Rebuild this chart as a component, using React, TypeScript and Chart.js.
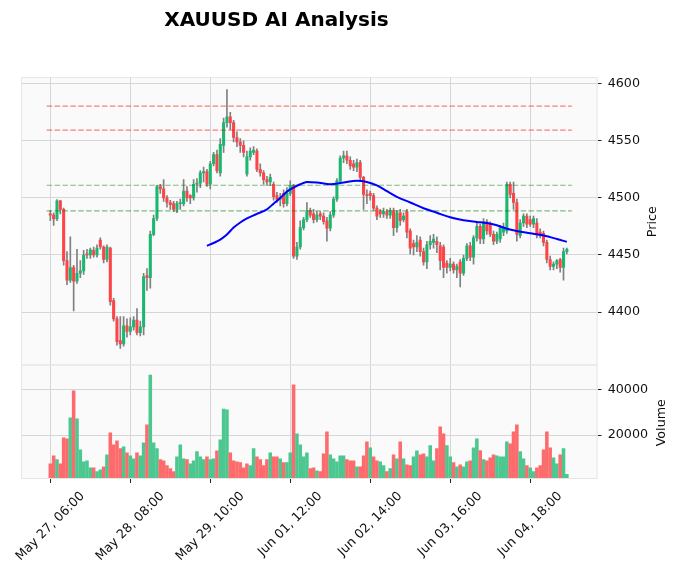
import React, { useEffect, useRef } from "react";
import { Chart, registerables } from "chart.js";

Chart.register(...registerables);

const chartTitle = "XAUUSD AI Analysis";
const tickIndex = [0, 24, 48, 72, 96, 120, 144];
const tickLabels = [
  "May 27, 06:00",
  "May 28, 08:00",
  "May 29, 10:00",
  "Jun 01, 12:00",
  "Jun 02, 14:00",
  "Jun 03, 16:00",
  "Jun 04, 18:00",
];
const priceTicks = [4400, 4450, 4500, 4550, 4600];
const volumeTicks = [20000, 40000];

const opens = [
  4486, 4485, 4481.5, 4497.5, 4490, 4445, 4428, 4439, 4427, 4434,
  4436, 4451, 4450, 4454, 4450, 4463, 4457, 4446, 4456, 4410,
  4394, 4375, 4372, 4388, 4383, 4387, 4393, 4382, 4387, 4432,
  4430, 4468, 4482, 4510, 4508, 4500, 4496, 4495, 4490, 4495,
  4495, 4506, 4502, 4500, 4512, 4513, 4522, 4523, 4512, 4530,
  4538, 4522, 4546, 4566, 4571, 4566, 4553, 4549, 4546, 4521,
  4536, 4540, 4541, 4525, 4522, 4516, 4514, 4512, 4502, 4499,
  4504, 4495, 4504, 4511, 4449, 4457, 4474, 4481, 4489, 4486,
  4481, 4486, 4484, 4480, 4473.5, 4485, 4499, 4515, 4535, 4537,
  4533, 4530, 4527, 4531, 4518, 4503, 4504, 4502, 4491, 4488,
  4486, 4488, 4485, 4489, 4474, 4487, 4481, 4488, 4471, 4460,
  4457, 4463, 4453, 4444, 4459, 4461, 4462, 4458, 4457, 4443,
  4439, 4442, 4437, 4444, 4434, 4447, 4458, 4448, 4465, 4475,
  4464, 4479, 4477, 4468, 4462, 4464, 4470, 4471, 4512, 4504,
  4496, 4467, 4478, 4484, 4481, 4477, 4478, 4470, 4469, 4461,
  4446, 4440, 4442, 4446, 4439, 4453,
];
const highs = [
  4489, 4487, 4498.5, 4498, 4491, 4453, 4466, 4441, 4455, 4445,
  4454, 4455, 4456, 4457, 4459, 4465, 4458, 4459, 4457, 4412,
  4396, 4396, 4396, 4394, 4395, 4396, 4403, 4392, 4434, 4438,
  4471, 4485, 4511, 4512, 4516, 4502, 4498, 4497, 4497, 4499,
  4516, 4510, 4503, 4516, 4517, 4524, 4527, 4525, 4532, 4540,
  4542, 4552, 4570, 4595, 4575, 4568, 4558, 4552, 4550, 4541,
  4544, 4545, 4543, 4530, 4524, 4519, 4521, 4514, 4505, 4504,
  4507, 4509, 4515, 4512, 4461, 4480, 4483, 4496, 4491, 4490,
  4488, 4488, 4487, 4483, 4488, 4501, 4517, 4537, 4541, 4541,
  4536, 4533, 4534, 4533, 4519, 4507, 4506, 4504, 4493, 4490,
  4491, 4490, 4491, 4491, 4489, 4490, 4487, 4490, 4473, 4463,
  4467, 4466, 4456, 4462, 4467, 4468, 4466, 4461, 4459, 4445,
  4447, 4444, 4442, 4446, 4450, 4460, 4461, 4467, 4478, 4477,
  4482, 4481, 4479, 4471, 4470, 4476, 4478, 4514, 4514, 4514,
  4499, 4481, 4486, 4486, 4484, 4484, 4482, 4473, 4471, 4463,
  4449, 4444, 4446, 4447, 4456, 4456,
];
const lows = [
  4480, 4476, 4480, 4486, 4441, 4424, 4426, 4401, 4425, 4430,
  4433, 4447, 4447, 4448, 4448, 4455, 4443, 4444, 4406, 4392,
  4371, 4368, 4370, 4378, 4380, 4384, 4380, 4379, 4380, 4419,
  4421, 4467, 4480, 4504, 4497, 4492, 4490, 4488, 4487, 4490,
  4493, 4497, 4495, 4498, 4505, 4509, 4514, 4510, 4508, 4528,
  4522, 4519, 4540, 4562, 4560, 4549, 4545, 4540, 4536, 4519,
  4533, 4538, 4523, 4519, 4512, 4511, 4511, 4498, 4496, 4493,
  4492, 4493, 4502, 4447, 4446, 4455, 4472, 4479, 4483, 4478,
  4479, 4481, 4477, 4462, 4471, 4483, 4497, 4513, 4531, 4530,
  4525, 4524, 4523, 4515, 4490, 4495, 4498, 4489, 4481, 4483,
  4483, 4482, 4482, 4467, 4470, 4476, 4479, 4465, 4451, 4450,
  4453, 4449, 4441, 4438, 4455, 4456, 4452, 4437, 4430, 4434,
  4436, 4434, 4430, 4422, 4432, 4445, 4445, 4442, 4462, 4460,
  4460, 4468, 4466, 4459, 4460, 4461, 4467, 4469, 4500, 4490,
  4462, 4465, 4475, 4474, 4475, 4474, 4465, 4465, 4458, 4443,
  4437, 4437, 4438, 4435, 4428, 4451,
];
const closes = [
  4485, 4481.5, 4497.5, 4490, 4445, 4428, 4439, 4427, 4434, 4436,
  4450, 4450, 4454.5, 4450, 4456, 4457, 4446, 4457, 4409, 4394,
  4374, 4372, 4388, 4383, 4387, 4393, 4382, 4387, 4431, 4430,
  4468, 4482, 4510, 4508, 4500, 4496, 4494, 4490, 4495, 4496,
  4506, 4500, 4500, 4512, 4513, 4522, 4523, 4512, 4530, 4538,
  4524, 4547, 4566, 4571, 4566, 4553, 4549, 4546, 4540, 4536,
  4541, 4542, 4525, 4522, 4516, 4514, 4518, 4501, 4499, 4500,
  4495, 4504, 4511, 4449, 4457, 4474, 4481, 4489, 4485, 4481,
  4485, 4484, 4479.5, 4473.5, 4485, 4499, 4515, 4535, 4537, 4533,
  4528, 4527, 4531, 4518, 4503, 4502, 4502, 4491, 4484, 4486,
  4488, 4485, 4489, 4474, 4487, 4480, 4484, 4470, 4456, 4457,
  4461, 4453, 4444, 4459, 4462, 4464, 4459, 4445, 4439, 4439,
  4442, 4437, 4440, 4434, 4447, 4458, 4448, 4465, 4475, 4464,
  4479, 4471, 4468, 4462, 4468, 4474, 4474, 4512, 4503, 4496,
  4468, 4478, 4484, 4477, 4477, 4482, 4468, 4467, 4461, 4446,
  4440, 4442, 4445, 4439, 4453, 4455,
];
const volumes = [
  7500, 11000, 9300, 7500, 18800, 18400, 27500, 39300, 27100, 13600,
  8400, 8800, 5800, 5800, 4100, 4900, 6200, 11400, 21000, 15800,
  17500, 14100, 14900, 12300, 11000, 9700, 12300, 11000, 16700, 24500,
  46200, 16700, 14100, 9300, 8800, 6700, 5400, 4100, 10600, 15800,
  9700, 9300, 7500, 8800, 12800, 10600, 9300, 10600, 9300, 9700,
  13200, 18000, 31400, 31000, 12300, 8800, 8400, 8000, 5800, 7500,
  6700, 14100, 10600, 9300, 6700, 9300, 12300, 10600, 10600, 9700,
  8000, 8000, 12300, 41900, 20600, 15800, 10600, 12300, 5400, 5800,
  4500, 4100, 11900, 21400, 11400, 9700, 8400, 11000, 11000, 9300,
  8800, 8800, 6200, 6200, 11000, 17100, 14500, 10600, 8800, 8400,
  6700, 4100, 5400, 11400, 9700, 17100, 9700, 7100, 6700, 10600,
  13200, 11400, 11900, 10600, 15400, 8800, 14100, 23600, 20600, 15400,
  10600, 8000, 6200, 7100, 6200, 8400, 8800, 14500, 18400, 13300,
  9300, 8800, 10100, 11400, 11000, 10600, 10600, 17100, 16200, 21400,
  24500, 12800, 9700, 6700, 5800, 4100, 5800, 6700, 13600, 21400,
  14500, 10100, 7500, 11400, 14100, 2950,
];

const maIndex = [
  47, 49, 51, 53, 55, 57, 59, 62, 65, 67, 69, 71, 73, 75, 77, 80, 84, 88, 92,
  95, 98, 101, 104, 108, 112, 116, 120, 124, 128, 131, 134, 137, 140, 144, 148,
  152, 155,
];
const maValues = [
  4458, 4460.5, 4463.5, 4468, 4474, 4478.5, 4482, 4486, 4490, 4495, 4500,
  4505.5, 4509, 4512, 4514, 4513.5, 4512, 4513.5, 4515, 4514, 4511, 4506, 4501,
  4496, 4491, 4487, 4483, 4480.5, 4479, 4478, 4476, 4473, 4471, 4469, 4467,
  4464, 4461.5,
];

const resistanceLevels = [4580.4, 4559.4];
const supportLevels = [4511.1, 4488.6];
const levelSpan = [-1.1, 156.5];

const FONT = "DejaVu Sans";
const UP = "#19b76f";
const DOWN = "#fe4446";
const VOL_UP = "#4dc790";
const VOL_DOWN = "#fd6b6c";
const GRID = "#d6d6d6";

export default function App() {
  const ref = useRef<HTMLCanvasElement>(null);

  useEffect(() => {
    const canvas = ref.current;
    if (!canvas) return;
    const idx = closes.map((_, i) => i);
    const isUp = (i: number) => closes[i] >= opens[i];
    const volUp = (i: number) => (i === 0 ? closes[0] >= opens[0] : closes[i] >= closes[i - 1]);

    const levelSet = (lv: number, color: string, k: number) => ({
      type: "line" as const,
      label: "level" + k,
      data: levelSpan.map((x) => ({ x, y: lv })),
      borderColor: color,
      borderWidth: 1.2,
      borderDash: [5.5, 2.4],
      pointRadius: 0,
      yAxisID: "y",
      order: 1,
    });

    const decor = {
      id: "decor",
      beforeDraw(chart: any) {
        const { ctx, chartArea } = chart;
        ctx.save();
        ctx.fillStyle = "#ffffff";
        ctx.fillRect(0, 0, chart.width, chart.height);
        ctx.fillStyle = "#fafafa";
        ctx.fillRect(chartArea.left, chartArea.top, chartArea.right - chartArea.left, chartArea.bottom - chartArea.top);
        ctx.restore();
      },
      afterDraw(chart: any) {
        const { ctx, chartArea } = chart;
        const ys = chart.scales.y;
        const yv = chart.scales.yv;
        const xs = chart.scales.x;
        ctx.save();
        // panel frames
        ctx.strokeStyle = "#e6e6e6";
        ctx.lineWidth = 1;
        ctx.strokeRect(chartArea.left + 0.5, ys.top + 0.5, chartArea.right - chartArea.left - 1, ys.bottom - ys.top);
        ctx.strokeRect(chartArea.left + 0.5, yv.top + 0.5, chartArea.right - chartArea.left - 1, yv.bottom - yv.top - 1);
        // title
        ctx.fillStyle = "#000000";
        ctx.font = `bold 20px "${FONT}"`;
        ctx.textAlign = "center";
        ctx.textBaseline = "alphabetic";
        ctx.fillText(chartTitle, 276.5, 26);
        // x tick labels, rotated 45deg, bbox centred on tick
        ctx.font = `12.7px "${FONT}"`;
        ctx.fillStyle = "#101010";
        const h = 12.7 * 1.16;
        tickIndex.forEach((v, k) => {
          const px = xs.getPixelForValue(v);
          const w = ctx.measureText(tickLabels[k]).width;
          const bb = (w + h) * Math.SQRT1_2;
          ctx.save();
          ctx.translate(px, chartArea.bottom + 10 + bb / 2);
          ctx.rotate(-Math.PI / 4);
          ctx.textAlign = "center";
          ctx.textBaseline = "middle";
          ctx.fillText(tickLabels[k], 0, 0);
          ctx.restore();
        });
        // y axis titles
        const drawV = (text: string, x: number, y: number) => {
          ctx.save();
          ctx.translate(x, y);
          ctx.rotate(-Math.PI / 2);
          ctx.textAlign = "center";
          ctx.textBaseline = "middle";
          ctx.fillText(text, 0, 0);
          ctx.restore();
        };
        drawV("Price", 653, (ys.top + ys.bottom) / 2 + 1);
        drawV("Volume", 662, (yv.top + yv.bottom) / 2 + 1);
        ctx.restore();
      },
    };

    const tickFont = { family: FONT, size: 12.7 };

    const chart = new Chart(canvas, {
      type: "bar",
      data: {
        datasets: [
          {
            type: "line",
            label: "MA",
            data: maIndex.map((x, k) => ({ x, y: maValues[k] })),
            borderColor: "#0000ff",
            borderWidth: 2,
            pointRadius: 0,
            cubicInterpolationMode: "monotone",
            yAxisID: "y",
            order: 0,
          } as any,
          levelSet(resistanceLevels[0], "rgba(255,0,0,0.5)", 0),
          levelSet(resistanceLevels[1], "rgba(255,0,0,0.5)", 1),
          levelSet(supportLevels[0], "rgba(0,128,0,0.5)", 2),
          levelSet(supportLevels[1], "rgba(0,128,0,0.5)", 3),
          {
            type: "bar",
            label: "body",
            data: idx.map((i) => ({ x: i, y: [opens[i], closes[i]] })),
            backgroundColor: idx.map((i) => (isUp(i) ? UP : DOWN)),
            barThickness: 2.4,
            minBarLength: 1,
            grouped: false,
            yAxisID: "y",
            order: 2,
          } as any,
          {
            type: "bar",
            label: "wick",
            data: idx.map((i) => ({ x: i, y: [lows[i], highs[i]] })),
            backgroundColor: "#808080",
            barThickness: 1,
            grouped: false,
            yAxisID: "y",
            order: 3,
          } as any,
          {
            type: "bar",
            label: "volume",
            data: idx.map((i) => ({ x: i, y: volumes[i] })),
            backgroundColor: idx.map((i) => (volUp(i) ? VOL_UP : VOL_DOWN)),
            barThickness: 2.9,
            grouped: false,
            yAxisID: "yv",
            order: 4,
          } as any,
        ],
      },
      options: {
        animation: false,
        responsive: false,
        maintainAspectRatio: false,
        layout: { padding: { left: 21, top: 77, right: 0, bottom: 0 } },
        plugins: { legend: { display: false }, tooltip: { enabled: false }, title: { display: false } },
        scales: {
          x: {
            type: "linear",
            min: -8.8,
            max: 164.2,
            offset: false,
            afterBuildTicks: (s: any) => {
              s.ticks = tickIndex.map((v) => ({ value: v }));
            },
            ticks: { display: false },
            grid: { offset: false, color: GRID, lineWidth: 1, tickLength: 4, tickColor: "#222222", drawTicks: true },
            border: { display: false },
            afterFit: (s: any) => {
              s.height = 100;
            },
          },
          y: {
            type: "linear",
            position: "right",
            stack: "panels",
            stackWeight: 287.5,
            min: 4354,
            max: 4606,
            afterBuildTicks: (s: any) => {
              s.ticks = priceTicks.map((v) => ({ value: v }));
            },
            ticks: { font: tickFont, color: "#101010", padding: 6.2, callback: (v: any) => String(v) },
            grid: { offset: false, color: GRID, lineWidth: 1, tickLength: 4, tickColor: "#222222" },
            border: { display: false },
            afterFit: (s: any) => {
              s.width = 81.5;
            },
          },
          yv: {
            type: "linear",
            position: "right",
            stack: "panels",
            stackWeight: 114.5,
            min: 885,
            max: 50800,
            afterBuildTicks: (s: any) => {
              s.ticks = volumeTicks.map((v) => ({ value: v }));
            },
            ticks: { font: tickFont, color: "#101010", padding: 6.2, callback: (v: any) => String(v) },
            grid: { offset: false, color: GRID, lineWidth: 1, tickLength: 4, tickColor: "#222222" },
            border: { display: false },
            afterFit: (s: any) => {
              s.width = 81.5;
            },
          },
        } as any,
      },
      plugins: [decor],
    });

    return () => chart.destroy();
  }, []);

  return (
    <div style={{ position: "fixed", left: 0, top: 0, width: 679, height: 579, background: "#ffffff" }}>
      <canvas ref={ref} width={679} height={579} style={{ display: "block" }} />
    </div>
  );
}
